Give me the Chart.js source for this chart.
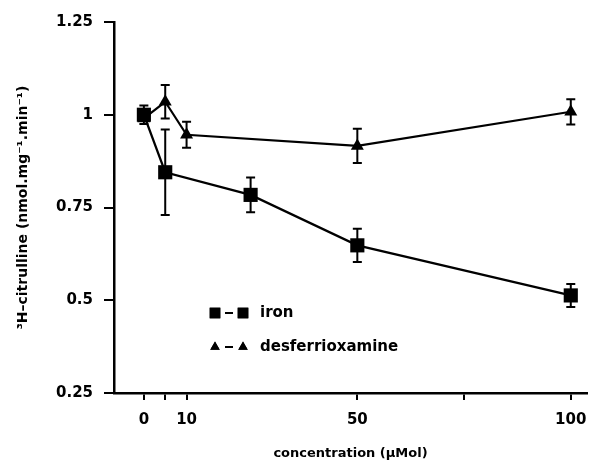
<!DOCTYPE html>
<html>
<head>
<meta charset="utf-8">
<script src="https://cdn.jsdelivr.net/npm/chart.js@4.4.1/dist/chart.umd.min.js"></script>
<style>
  html, body { margin: 0; padding: 0; background: #fff; }
  #wrap { width: 590px; height: 464px; }
</style>
</head>
<body>
<div id="wrap"><canvas id="citrulline"></canvas></div>
<script>
// concentrations (uMol)
var ironConc = [0, 5, 25, 50, 100];
var ironValues = [1.0, 0.845, 0.784, 0.648, 0.513];
var ironErr = [0.025, 0.115, 0.047, 0.045, 0.031];

var desfConc = [0, 5, 10, 50, 100];
var desfValues = [0.99, 1.035, 0.946, 0.916, 1.008];
var desfErr = [0, 0.045, 0.035, 0.046, 0.034];

var xTicks = [0, 5, 10, 50, 75, 100];
var xTickLabels = ["0", "", "10", "50", "", "100"];
var yTicks = [0.25, 0.5, 0.75, 1, 1.25];

var seriesLabels = ["iron", "desferrioxamine"];

var FONT = "'DejaVu Sans', sans-serif";

function toPoints(xs, ys) {
  return xs.map(function(x, i) { return { x: x, y: ys[i] }; });
}

// vertical error bars with caps
var errorBars = {
  id: 'errorBars',
  afterDatasetsDraw: function(chart) {
    var ctx = chart.ctx;
    var yScale = chart.scales.y;
    ctx.save();
    ctx.strokeStyle = '#000';
    ctx.lineWidth = 2;
    chart.data.datasets.forEach(function(ds, di) {
      var meta = chart.getDatasetMeta(di);
      ds.errors.forEach(function(e, i) {
        if (!e) return;
        var pt = meta.data[i];
        var v = ds.data[i].y;
        var top = yScale.getPixelForValue(v + e);
        var bot = yScale.getPixelForValue(v - e);
        ctx.beginPath();
        ctx.moveTo(pt.x, top); ctx.lineTo(pt.x, bot);
        ctx.moveTo(pt.x - 4.5, top); ctx.lineTo(pt.x + 4.5, top);
        ctx.moveTo(pt.x - 4.5, bot); ctx.lineTo(pt.x + 4.5, bot);
        ctx.stroke();
      });
    });
    ctx.restore();
  }
};

// legend drawn inside the plot, like the original figure
var innerLegend = {
  id: 'innerLegend',
  afterDraw: function(chart) {
    var ctx = chart.ctx;
    var area = chart.chartArea;
    var x0 = area.left + 101;
    var rows = [area.top + 291, area.top + 325];
    ctx.save();
    ctx.fillStyle = '#000';
    ctx.strokeStyle = '#000';
    ctx.lineWidth = 2;
    ctx.font = 'bold 15px ' + FONT;
    ctx.textBaseline = 'middle';
    chart.data.datasets.forEach(function(ds, di) {
      var y = rows[di];
      var shape = ds.pointStyle;
      [x0, x0 + 28].forEach(function(cx) {
        Chart.helpers.drawPoint(ctx, { pointStyle: shape, radius: shape === 'rect' ? 7.5 : 5.5, borderWidth: 0 }, cx, y);
        ctx.fill();
      });
      ctx.beginPath();
      ctx.moveTo(x0 + 10, y); ctx.lineTo(x0 + 18, y);
      ctx.stroke();
      ctx.fillText(ds.label, x0 + 45, y);
    });
    ctx.restore();
  }
};

var ctx = document.getElementById("citrulline").getContext("2d");
new Chart(ctx, {
  type: 'line',
  data: {
    datasets: [{
      label: seriesLabels[0],
      data: toPoints(ironConc, ironValues),
      errors: ironErr,
      borderColor: '#000',
      backgroundColor: '#000',
      borderWidth: 2.2,
      pointStyle: 'rect',
      pointRadius: 10,
      pointBorderWidth: 0,
      fill: false
    }, {
      label: seriesLabels[1],
      data: toPoints(desfConc, desfValues),
      errors: desfErr,
      borderColor: '#000',
      backgroundColor: '#000',
      borderWidth: 2.2,
      pointStyle: 'triangle',
      pointRadius: 7.5,
      pointBorderWidth: 0,
      fill: false
    }]
  },
  options: {
    responsive: true,
    maintainAspectRatio: false,
    animation: false,
    layout: { autoPadding: false, padding: { left: 15, right: 3, top: 22, bottom: 0 } },
    plugins: {
      legend: { display: false },
      tooltip: { enabled: false }
    },
    scales: {
      x: {
        type: 'linear',
        min: -7,
        max: 103.8,
        afterBuildTicks: function(scale) {
          scale.ticks = xTicks.map(function(v) { return { value: v }; });
        },
        afterFit: function(scale) {
          scale.height = 71;
          scale.paddingLeft = 0;
          scale.paddingRight = 0;
        },
        ticks: {
          autoSkip: false,
          maxRotation: 0,
          padding: 11,
          color: '#000',
          font: { family: FONT, size: 15, weight: 'bold' },
          callback: function(v) {
            var i = xTicks.indexOf(v);
            return i >= 0 ? xTickLabels[i] : '';
          }
        },
        grid: { drawOnChartArea: false, drawTicks: true, tickLength: 7, color: '#000', lineWidth: 2 },
        border: { display: true, color: '#000', width: 2.5 },
        title: {
          display: true,
          text: 'concentration (µMol)',
          color: '#000',
          font: { family: FONT, size: 13, weight: 'bold' },
          padding: { top: 0, bottom: 3 }
        }
      },
      y: {
        min: 0.25,
        max: 1.25,
        afterBuildTicks: function(scale) {
          scale.ticks = yTicks.map(function(v) { return { value: v }; });
        },
        afterFit: function(scale) {
          scale.width = 99;
          scale.paddingTop = 0;
          scale.paddingBottom = 0;
        },
        ticks: {
          padding: 11,
          color: '#000',
          font: { family: FONT, size: 15, weight: 'bold' },
          callback: function(v) { return String(+v.toFixed(2)); }
        },
        grid: { drawOnChartArea: false, drawTicks: true, tickLength: 10, color: '#000', lineWidth: 2 },
        border: { display: true, color: '#000', width: 2.5 },
        title: {
          display: true,
          text: '³H–citrulline (nmol.mg⁻¹.min⁻¹)',
          color: '#000',
          font: { family: FONT, size: 14, weight: 'bold' },
          padding: { top: 0, bottom: 0 }
        }
      }
    }
  },
  plugins: [errorBars, innerLegend]
});
</script>
</body>
</html>
